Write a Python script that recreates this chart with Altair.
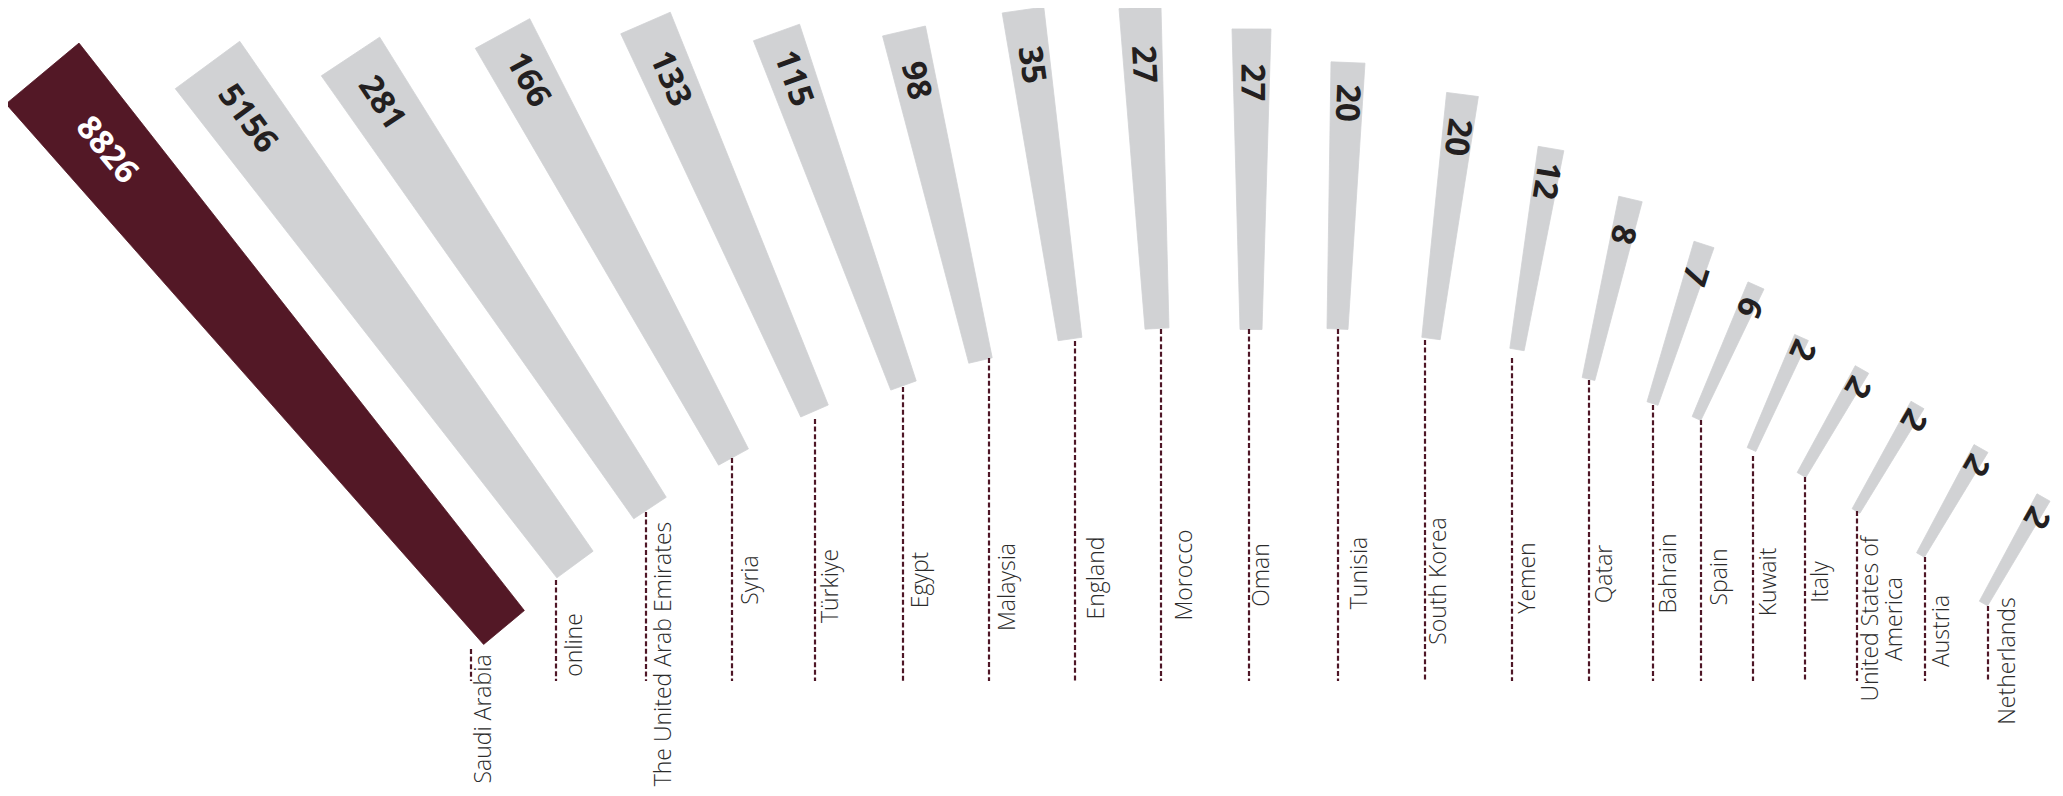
import math
import altair as alt
import pandas as pd

# ---------------- data ----------------
countries = ["Saudi Arabia", "online", "The United Arab Emirates", "Syria", "Türkiye",
             "Egypt", "Malaysia", "England", "Morocco", "Oman", "Tunisia", "South Korea",
             "Yemen", "Qatar", "Bahrain", "Spain", "Kuwait", "Italy",
             "United States of America", "Austria", "Netherlands"]
values = [8826, 5156, 281, 166, 133, 115, 98, 35, 27, 27, 20, 20, 12, 8, 7, 6, 2, 2, 2, 2, 2]
label_lines = {"United States of America": ["United States of", "America"]}
highlight = "Saudi Arabia"

# ---------------- layout (page pixels) ----------------
tip_x = [42.5, 207.5, 350.5, 502.5, 645.5, 776.5, 904, 1023, 1140, 1251.5, 1348, 1462.5,
         1551, 1630.5, 1704, 1756, 1801.5, 1862, 1917.5, 1981, 2043.5]
tip_y = [73.5, 65, 56.5, 33.5, 23, 32.5, 31, 10, 7.5, 29, 62.5, 94.5,
         148.5, 199, 244.5, 285.5, 337.5, 369.5, 405, 448.5, 497.5]
tip_w = [95, 80, 70, 62, 54, 49, 44, 42, 42, 39, 34, 32, 26, 24, 21, 17.5, 15, 15.5, 15, 16, 15]
base_x = [504, 575, 650, 733.5, 814.5, 903.5, 980.5, 1070, 1157, 1251, 1337.5, 1431,
          1517, 1588.5, 1652.5, 1696.5, 1751.5, 1801.5, 1856, 1920.5, 1983.5]
base_y = [627.5, 564.5, 508, 457, 411, 385.5, 360.5, 339, 328.5, 329.5, 329, 338.5,
          349.5, 379, 403.5, 418.5, 449.5, 475, 511, 555, 603.5]
base_w = [53, 45, 39, 34, 30, 27, 24, 24, 24, 22, 21, 18.5, 14.5, 13, 11.5, 9.5, 9.5, 10, 9, 9, 9.5]
value_pos = [100, 67, 56, 53, 61, 49, 51, 55.5, 57, 53.5, 40.5, 43, 32.5, 36.5, 32.5, 23,
             11, 17.5, 15, 17, 21]
value_side = [0, 0, 0, 0, 0, 0, 0, 0, 0, 0, 0, 0, 0, 0, 0, 2, 5, 4, 3, 3, 3]
dash_x = [471, 556, 646, 732, 815, 903, 989, 1075, 1161, 1249, 1338, 1425, 1512, 1589,
          1653, 1701, 1753, 1805, 1857, 1925, 1988]
dash_top = [649, 580, 512, 458, 419, 387, 358, 341, 329, 329, 329, 340, 358, 380, 405,
            420, 456, 477, 511, 557, 606]
dash_bottom = 681
label_x = [475, 566, 655, 742, 822, 912, 999, 1088, 1176, 1253, 1351, 1430, 1519, 1596,
           1660, 1711, 1760, 1812, 1862, 1933, 1999]
label_y = [719, 645, 654, 580, 586, 580, 587, 578, 575, 575, 573, 581, 578, 574, 573.5,
           577, 582, 582, 619, 631, 661]

MAROON = "#531826"
GRAY = "#d1d2d4"
INK = "#231f20"
LABEL_SIZE = 23
VALUE_SIZE = 33

# ---------------- build tables ----------------
poly_rows, val_rows, dash_rows, lab_rows = [], [], [], []
for i, c in enumerate(countries):
    dx, dy = base_x[i] - tip_x[i], base_y[i] - tip_y[i]
    L = math.hypot(dx, dy)
    ux, uy = dx / L, dy / L
    nx, ny = -uy, ux
    pts = [
        (tip_x[i] + nx * tip_w[i] / 2, tip_y[i] + ny * tip_w[i] / 2),
        (tip_x[i] - nx * tip_w[i] / 2, tip_y[i] - ny * tip_w[i] / 2),
        (base_x[i] - nx * base_w[i] / 2, base_y[i] - ny * base_w[i] / 2),
        (base_x[i] + nx * base_w[i] / 2, base_y[i] + ny * base_w[i] / 2),
    ]
    pts.append(pts[0])
    hl = 1 if c == highlight else 0
    for k, (px, py) in enumerate(pts):
        poly_rows.append({"country": c, "k": k, "px": px, "py": py, "hl": hl})
    ang = math.degrees(math.atan2(uy, ux)) % 360
    val_rows.append({
        "country": c, "value": str(values[i]),
        "vx": tip_x[i] + ux * value_pos[i] - nx * value_side[i],
        "vy": tip_y[i] + uy * value_pos[i] - ny * value_side[i],
        "ang": ang, "tcolor": "#ffffff" if hl else INK,
    })
    dash_rows.append({"country": c, "x": dash_x[i], "y": dash_top[i], "y2": dash_bottom})
    lab_rows.append({"country": c, "lab": label_lines.get(c, c),
                     "lx": label_x[i] - 0.076 * LABEL_SIZE, "ly": label_y[i]})

poly = pd.DataFrame(poly_rows)
vals = pd.DataFrame(val_rows)
dashes = pd.DataFrame(dash_rows)
labs = pd.DataFrame(lab_rows)

xs = alt.Scale(domain=[8, 2055], nice=False, zero=False)
ys = alt.Scale(domain=[8, 788], nice=False, zero=False, reverse=True)

gray_bars = alt.Chart(poly).transform_filter("datum.hl == 0").mark_line(
    fill=GRAY, stroke=GRAY, strokeWidth=0.8
).encode(
    x=alt.X("px:Q", scale=xs, axis=None),
    y=alt.Y("py:Q", scale=ys, axis=None),
    detail="country:N",
    order="k:Q",
)
hl_bar = alt.Chart(poly).transform_filter("datum.hl == 1").mark_line(
    fill=MAROON, stroke=MAROON, strokeWidth=0.8
).encode(
    x=alt.X("px:Q", scale=xs, axis=None),
    y=alt.Y("py:Q", scale=ys, axis=None),
    detail="country:N",
    order="k:Q",
)
rules = alt.Chart(dashes).mark_rule(
    color="#4e1626", strokeWidth=2.2, strokeDash=[5, 2.6]
).encode(
    x=alt.X("x:Q", scale=xs, axis=None),
    y=alt.Y("y:Q", scale=ys, axis=None),
    y2="y2:Q",
)
value_text = alt.Chart(vals).mark_text(
    font="Open Sans", fontWeight="bold", fontSize=VALUE_SIZE, align="center", baseline="middle"
).encode(
    x=alt.X("vx:Q", scale=xs, axis=None),
    y=alt.Y("vy:Q", scale=ys, axis=None),
    angle=alt.Angle("ang:Q", scale=None),
    color=alt.Color("tcolor:N", scale=None),
    text="value:N",
)
country_text = alt.Chart(labs).mark_text(
    font="Open Sans", fontSize=LABEL_SIZE, fontWeight=300, angle=270, align="center",
    baseline="top", color="#2b2b2b", lineHeight=24,
).encode(
    x=alt.X("lx:Q", scale=xs, axis=None),
    y=alt.Y("ly:Q", scale=ys, axis=None),
    text="lab",
)

chart = alt.layer(gray_bars, hl_bar, rules, value_text, country_text).properties(
    width=2047, height=780, padding=0, autosize=alt.AutoSizeParams(type="none"),
    background="white",
).configure_view(strokeWidth=0)

chart.save("out.html", embed_options={"renderer": "svg", "actions": False})
